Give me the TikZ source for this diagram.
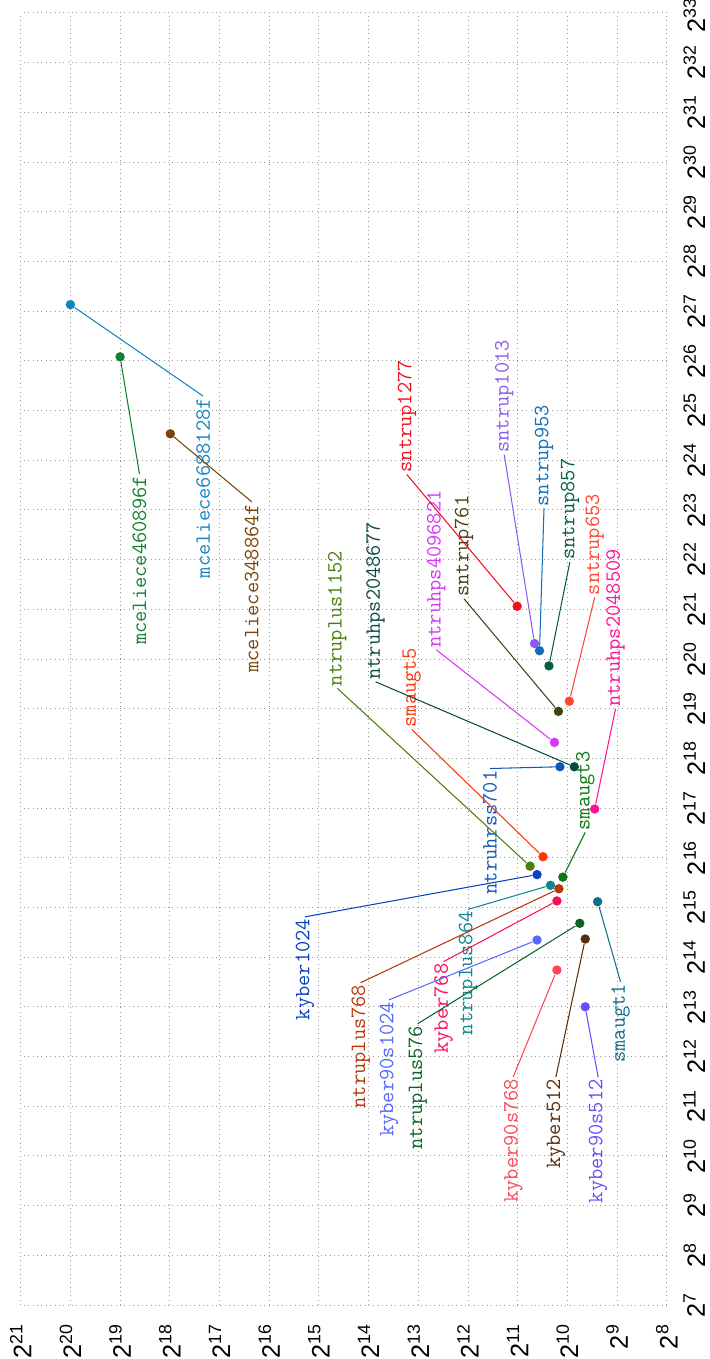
\documentclass[tikz,border=0pt]{standalone}
\usepackage{fontspec}
\newfontfamily\ticksfont{Liberation Sans}
\definecolor{mceliece6688128f}{RGB}{18,131,192}
\definecolor{mceliece460896f}{RGB}{16,128,48}
\definecolor{mceliece348864f}{RGB}{120,68,10}
\definecolor{sntrup1277}{RGB}{238,16,32}
\definecolor{sntrup1013}{RGB}{140,90,240}
\definecolor{sntrup953}{RGB}{20,110,180}
\definecolor{sntrup857}{RGB}{10,95,65}
\definecolor{sntrup761}{RGB}{70,65,20}
\definecolor{sntrup653}{RGB}{255,70,50}
\definecolor{ntruhps4096821}{RGB}{215,55,245}
\definecolor{ntruhps2048509}{RGB}{250,20,150}
\definecolor{ntruhps2048677}{RGB}{10,75,65}
\definecolor{ntruhrss701}{RGB}{15,90,185}
\definecolor{ntruplus1152}{RGB}{75,125,15}
\definecolor{ntruplus864}{RGB}{15,135,145}
\definecolor{ntruplus768}{RGB}{180,55,10}
\definecolor{ntruplus576}{RGB}{10,100,40}
\definecolor{smaugt5}{RGB}{250,55,10}
\definecolor{smaugt3}{RGB}{15,120,20}
\definecolor{smaugt1}{RGB}{15,110,140}
\definecolor{kyber1024}{RGB}{10,65,190}
\definecolor{kyber768}{RGB}{250,15,85}
\definecolor{kyber512}{RGB}{90,45,10}
\definecolor{kyber90s1024}{RGB}{85,105,250}
\definecolor{kyber90s768}{RGB}{250,70,90}
\definecolor{kyber90s512}{RGB}{110,75,250}
\begin{document}
\begin{tikzpicture}
[
    rotate = 90, transform shape,
    point/.style = {circle, fill = #1, inner sep = 0pt, minimum size = 5.4pt},
    tag/.style = {text = #1, font = \ttfamily\fontsize{12.5}{15}\selectfont, inner sep = 1pt},
    link/.style = {draw = #1, line width = 0.6pt},
    gridline/.style = {draw = gray!80, dotted, line width = 0.5pt},
    ticklabel/.style = {font = \ticksfont\fontsize{14.5}{17}\selectfont, inner sep = 0pt}
]
    \useasboundingbox (5.913, 7.131) rectangle (33.26, 21.417);

    \foreach \x in {7,...,33}
        \draw[gridline] (\x, 8) -- (\x, 21);
    \foreach \y in {8,...,21}
        \draw[gridline] (7, \y) -- (33, \y);
    \foreach \x in {7,...,32}
        \node[ticklabel, anchor = north] (xtick\x) at (\x, 7.67) {2\textsuperscript{\x}};
    \node[ticklabel, anchor = north] (xtick33) at (32.95, 7.67) {2\textsuperscript{33}};
    \foreach \y in {8,...,21}
        \node[ticklabel, anchor = east] (ytick\y) at (6.62, \y) {2\textsuperscript{\y}};

    \node[point = mceliece6688128f] (mceliece6688128f) at (27.13, 20.00) {};
    \node[point = mceliece460896f] (mceliece460896f) at (26.08, 19.00) {};
    \node[point = mceliece348864f] (mceliece348864f) at (24.53, 17.99) {};
    \node[point = sntrup1277] (sntrup1277) at (21.06, 11.01) {};
    \node[point = sntrup1013] (sntrup1013) at (20.31, 10.66) {};
    \node[point = sntrup953] (sntrup953) at (20.165, 10.56) {};
    \node[point = sntrup857] (sntrup857) at (19.86, 10.37) {};
    \node[point = sntrup761] (sntrup761) at (18.945, 10.18) {};
    \node[point = sntrup653] (sntrup653) at (19.15, 9.96) {};
    \node[point = ntruhps4096821] (ntruhps4096821) at (18.32, 10.26) {};
    \node[point = ntruhps2048509] (ntruhps2048509) at (16.98, 9.45) {};
    \node[point = ntruhps2048677] (ntruhps2048677) at (17.83, 9.86) {};
    \node[point = ntruhrss701] (ntruhrss701) at (17.83, 10.15) {};
    \node[point = ntruplus1152] (ntruplus1152) at (15.83, 10.75) {};
    \node[point = smaugt5] (smaugt5) at (16.02, 10.49) {};
    \node[point = kyber1024] (kyber1024) at (15.66, 10.61) {};
    \node[point = smaugt3] (smaugt3) at (15.61, 10.09) {};
    \node[point = ntruplus864] (ntruplus864) at (15.445, 10.34) {};
    \node[point = ntruplus768] (ntruplus768) at (15.376, 10.17) {};
    \node[point = kyber768] (kyber768) at (15.13, 10.21) {};
    \node[point = smaugt1] (smaugt1) at (15.115, 9.39) {};
    \node[point = ntruplus576] (ntruplus576) at (14.68, 9.75) {};
    \node[point = kyber512] (kyber512) at (14.364, 9.64) {};
    \node[point = kyber90s1024] (kyber90s1024) at (14.344, 10.61) {};
    \node[point = kyber90s768] (kyber90s768) at (13.74, 10.21) {};
    \node[point = kyber90s512] (kyber90s512) at (13.00, 9.64) {};

    \node[tag = mceliece6688128f, anchor = east] (mceliece6688128f-t) at (25.29, 17.33) {mceliece6688128f};
    \node[tag = mceliece460896f, anchor = east] (mceliece460896f-t) at (23.72, 18.61) {mceliece460896f};
    \node[tag = mceliece348864f, anchor = east] (mceliece348864f-t) at (23.16, 16.35) {mceliece348864f};
    \node[tag = sntrup1277, anchor = west] (sntrup1277-t) at (23.71, 13.23) {sntrup1277};
    \node[tag = sntrup1013, anchor = west] (sntrup1013-t) at (24.11, 11.27) {sntrup1013};
    \node[tag = sntrup953, anchor = west] (sntrup953-t) at (23.03, 10.47) {sntrup953};
    \node[tag = sntrup857, anchor = west] (sntrup857-t) at (21.95, 9.95) {sntrup857};
    \node[tag = sntrup761, anchor = west] (sntrup761-t) at (21.21, 12.08) {sntrup761};
    \node[tag = sntrup653, anchor = west] (sntrup653-t) at (21.24, 9.45) {sntrup653};
    \node[tag = ntruhps4096821, anchor = west] (ntruhps4096821-t) at (20.185, 12.64) {ntruhps4096821};
    \node[tag = ntruhps2048509, anchor = west] (ntruhps2048509-t) at (19.0, 9.03) {ntruhps2048509};
    \node[tag = ntruplus1152, anchor = west] (ntruplus1152-t) at (19.41, 14.63) {ntruplus1152};
    \node[tag = ntruhps2048677, anchor = west] (ntruhps2048677-t) at (19.54, 13.86) {ntruhps2048677};
    \node[tag = smaugt5, anchor = west] (smaugt5-t) at (18.58, 13.13) {smaugt5};
    \node[tag = ntruhrss701, anchor = east] (ntruhrss701-t) at (17.795, 11.56) {ntruhrss701};
    \node[tag = smaugt3, anchor = west] (smaugt3-t) at (16.51, 9.64) {smaugt3};
    \node[tag = kyber1024, anchor = east] (kyber1024-t) at (14.81, 15.28) {kyber1024};
    \node[tag = ntruplus864, anchor = east] (ntruplus864-t) at (14.96, 12.0) {ntruplus864};
    \node[tag = ntruplus768, anchor = east] (ntruplus768-t) at (13.485, 14.16) {ntruplus768};
    \node[tag = kyber768, anchor = east] (kyber768-t) at (13.91, 12.49) {kyber768};
    \node[tag = kyber90s1024, anchor = east] (kyber90s1024-t) at (13.14, 13.59) {kyber90s1024};
    \node[tag = ntruplus576, anchor = east] (ntruplus576-t) at (12.66, 13.01) {ntruplus576};
    \node[tag = smaugt1, anchor = east] (smaugt1-t) at (13.505, 8.93) {smaugt1};
    \node[tag = kyber90s768, anchor = east] (kyber90s768-t) at (11.59, 11.09) {kyber90s768};
    \node[tag = kyber512, anchor = east] (kyber512-t) at (11.59, 10.23) {kyber512};
    \node[tag = kyber90s512, anchor = east] (kyber90s512-t) at (11.58, 9.38) {kyber90s512};

    \draw[link = mceliece6688128f] (mceliece6688128f) -- (mceliece6688128f-t.east);
    \draw[link = mceliece460896f] (mceliece460896f) -- (mceliece460896f-t.east);
    \draw[link = mceliece348864f] (mceliece348864f) -- (mceliece348864f-t.east);
    \draw[link = sntrup1277] (sntrup1277) -- (sntrup1277-t.west);
    \draw[link = sntrup1013] (sntrup1013) -- (sntrup1013-t.west);
    \draw[link = sntrup953] (sntrup953) -- (sntrup953-t.west);
    \draw[link = sntrup857] (sntrup857) -- (sntrup857-t.west);
    \draw[link = sntrup761] (sntrup761) -- (sntrup761-t.west);
    \draw[link = sntrup653] (sntrup653) -- (sntrup653-t.west);
    \draw[link = ntruhps4096821] (ntruhps4096821) -- (ntruhps4096821-t.west);
    \draw[link = ntruhps2048509] (ntruhps2048509) -- (ntruhps2048509-t.west);
    \draw[link = ntruplus1152] (ntruplus1152) -- (ntruplus1152-t.west);
    \draw[link = ntruhps2048677] (ntruhps2048677) -- (ntruhps2048677-t.west);
    \draw[link = smaugt5] (smaugt5) -- (smaugt5-t.west);
    \draw[link = ntruhrss701] (ntruhrss701) -- (ntruhrss701-t.east);
    \draw[link = smaugt3] (smaugt3) -- (smaugt3-t.west);
    \draw[link = kyber1024] (kyber1024) -- (kyber1024-t.east);
    \draw[link = ntruplus864] (ntruplus864) -- (ntruplus864-t.east);
    \draw[link = ntruplus768] (ntruplus768) -- (ntruplus768-t.east);
    \draw[link = kyber768] (kyber768) -- (kyber768-t.east);
    \draw[link = kyber90s1024] (kyber90s1024) -- (kyber90s1024-t.east);
    \draw[link = ntruplus576] (ntruplus576) -- (ntruplus576-t.east);
    \draw[link = smaugt1] (smaugt1) -- (smaugt1-t.east);
    \draw[link = kyber90s768] (kyber90s768) -- (kyber90s768-t.east);
    \draw[link = kyber512] (kyber512) -- (kyber512-t.east);
    \draw[link = kyber90s512] (kyber90s512) -- (kyber90s512-t.east);
\end{tikzpicture}
\end{document}
